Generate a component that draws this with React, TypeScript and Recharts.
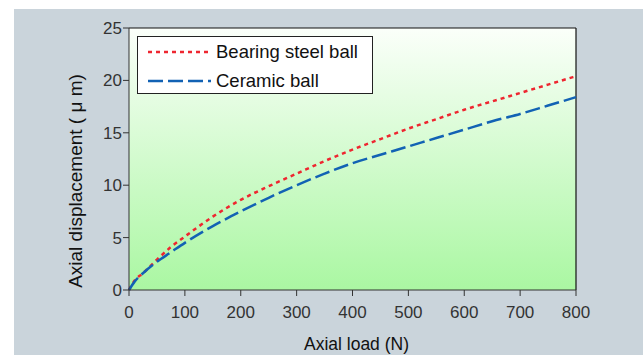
import React from "react";
import {
  LineChart, Line, XAxis, YAxis, ReferenceArea, ReferenceLine, Label,
} from "recharts";

// Axial load (N)
const loads = [0, 10, 25, 50, 75, 100, 150, 200, 250, 300, 350, 400, 450, 500, 550, 600, 650, 700, 750, 800];
// Axial displacement (µm)
const steelBall = [0, 0.9, 1.6, 2.9, 4.1, 5.1, 7.0, 8.6, 9.9, 11.1, 12.3, 13.4, 14.4, 15.4, 16.3, 17.2, 18.0, 18.8, 19.6, 20.4];
const ceramicBall = [0, 0.8, 1.6, 2.7, 3.6, 4.5, 6.1, 7.5, 8.8, 10.0, 11.1, 12.1, 12.9, 13.7, 14.5, 15.3, 16.1, 16.8, 17.6, 18.4];

const xTicks = [0, 100, 200, 300, 400, 500, 600, 700, 800];
const yTicks = [0, 5, 10, 15, 20, 25];

const chartData = loads.map((x, i) => ({ x, steel: steelBall[i], ceramic: ceramicBall[i] }));

const FONT = "'Liberation Sans', Arial, sans-serif";
const RED = "#ee2630";
const BLUE = "#1262b4";

// legend drawn as a plain overlay so it doesn't take space from the plot
function LegendBox() {
  const row = (color: string, dash: string, text: string) => (
    <div style={{ display: "flex", alignItems: "center", height: 29 }}>
      <svg width={68} height={10} style={{ marginLeft: 10 }}>
        <line x1={0} y1={5} x2={63} y2={5} stroke={color} strokeWidth={2.5} strokeDasharray={dash} />
      </svg>
      <span style={{ fontSize: 18.5, color: "#111" }}>{text}</span>
    </div>
  );
  return (
    <div style={{
      position: "absolute", left: 137, top: 36,
      width: 234, height: 56, background: "#fff", border: "1px solid #222",
      fontFamily: FONT, boxSizing: "content-box",
    }}>
      {row(RED, "4 4", "Bearing steel ball")}
      {row(BLUE, "15 5", "Ceramic ball")}
    </div>
  );
}

// y title sits a bit lower than the plot centre in the original
const YTitle = () => (
  <text x={82} y={181} transform="rotate(-90, 82, 181)" textAnchor="middle"
    style={{ fontSize: 19, fill: "#111", fontFamily: FONT }}>
    Axial displacement ( μ m)
  </text>
);

export default function App() {
  return (
    <div style={{ position: "absolute", left: 0, top: 0, width: 643, height: 355, background: "#fff" }}>
      <div style={{ position: "absolute", left: 14, top: 9, width: 629, height: 346, background: "#cad4db" }} />
      <div style={{ position: "absolute", left: 0, top: 0 }}>
        <LineChart
          width={643}
          height={355}
          data={chartData}
          margin={{ top: 28, right: 67, bottom: 25, left: 69 }}
          style={{ fontFamily: FONT }}
        >
          <defs>
            <linearGradient id="bg" x1="0" y1="0" x2="0" y2="1">
              <stop offset="0%" stopColor="#fbfffa" />
              <stop offset="100%" stopColor="#aaf7a2" />
            </linearGradient>
          </defs>
          <ReferenceArea x1={0} x2={800} y1={0} y2={25} fill="url(#bg)" fillOpacity={1} stroke="none" ifOverflow="hidden" />
          <ReferenceLine y={25} stroke="#111" strokeWidth={1.2} />
          <ReferenceLine x={800} stroke="#111" strokeWidth={1.2} />
          <XAxis
            dataKey="x"
            type="number"
            domain={[0, 800]}
            ticks={xTicks}
            height={40}
            tickSize={6}
            stroke="#333"
            tick={{ fontSize: 17, fill: "#333" }}
            tickMargin={10}
          >
            <Label value="Axial load (N)" position="insideBottom" offset={-20} dx={4} style={{ fontSize: 17.5, fill: "#111" }} />
          </XAxis>
          <YAxis
            type="number"
            domain={[0, 25]}
            ticks={yTicks}
            width={60}
            tickSize={6}
            stroke="#333"
            tick={{ fontSize: 17, fill: "#333" }}
            tickMargin={1}
            label={<YTitle />}
          />
          <Line type="monotone" dataKey="steel" stroke={RED} strokeWidth={2.5} strokeDasharray="4 4" dot={false} isAnimationActive={false} />
          <Line type="monotone" dataKey="ceramic" stroke={BLUE} strokeWidth={2.5} strokeDasharray="15 5" dot={false} isAnimationActive={false} />
        </LineChart>
      </div>
      <LegendBox />
    </div>
  );
}
